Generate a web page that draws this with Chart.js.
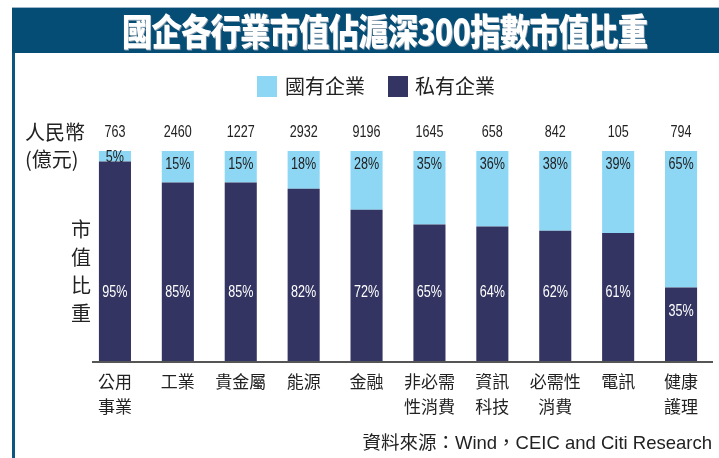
<!DOCTYPE html>
<html>
<head>
<meta charset="utf-8">
<script src="https://cdn.jsdelivr.net/npm/chart.js@4"></script>
<style>
  body { margin: 0; background: #fff; }
  #wrap { position: relative; width: 719px; height: 458px; overflow: hidden; }
  #chart { position: absolute; left: 0; top: 0; }
  .abs { position: absolute; white-space: nowrap; color: #222; }
  .cjk { font-family: "Noto Sans CJK TC", "Noto Sans", sans-serif; }
  #banner { position: absolute; left: 12px; top: 7px; width: 707px; height: 46px; background: #064d75; border-top: 1px solid #9fb7c8; box-sizing: border-box; }
  #title { position: absolute; left: 110px; top: 1px; white-space: nowrap; font: 900 37px "Noto Sans CJK TC", sans-serif; color: #fff; transform: scaleX(0.82); transform-origin: left top; line-height: 42px; text-shadow: 1px 1px 0 #8a9fb0; letter-spacing: -1px; }
  #frame { position: absolute; left: 12px; top: 53px; width: 3px; height: 405px; background: #0b5580; }
  .box { position: absolute; width: 20px; height: 21px; }
</style>
</head>
<body>
<div id="wrap">
  <canvas id="chart" width="719" height="458"></canvas>
  <div id="banner"><div id="title">國企各行業市值佔滬深300指數市值比重</div></div>
  <div id="frame"></div>

  <div class="box" style="left:257px; top:76px; background:#8dd7f5;"></div>
  <div class="abs cjk" style="left:285px; top:73px; font-size:20px; line-height:26px;">國有企業</div>
  <div class="box" style="left:388px; top:76px; background:#333462;"></div>
  <div class="abs cjk" style="left:415px; top:73px; font-size:20px; line-height:26px;">私有企業</div>

  <div class="abs cjk" style="left:25px; top:119px; font-size:20px; line-height:26px;">人民幣</div>
  <div class="abs cjk" style="left:25px; top:146px; font-size:20px; line-height:26px;">(億元)</div>

  <div class="abs cjk" style="left:71px; top:215px; font-size:20px; line-height:28px; width:20px;">市<br>值<br>比<br>重</div>

  <div class="abs" style="right:7px; top:430px; font-size:18.5px; line-height:26px; font-family:'Liberation Sans','Noto Sans CJK TC',sans-serif;">資料來源：Wind，CEIC and Citi Research</div>
</div>

<script>
const sectors = [['公用', '事業'], '工業', '貴金屬', '能源', '金融', ['非必需', '性消費'], ['資訊', '科技'], ['必需性', '消費'], '電訊', ['健康', '護理']];
const totals = [763, 2460, 1227, 2932, 9196, 1645, 658, 842, 105, 794];
const privateShare = [95, 85, 85, 82, 72, 65, 64, 62, 61, 35];
const stateShare = [5, 15, 15, 18, 28, 35, 36, 38, 39, 65];

const navy = '#333462';
const lightBlue = '#8dd7f5';
const numFont = '17px "Liberation Sans", sans-serif';

// narrow text, like the condensed face in the original
function narrowText(ctx, text, x, y) {
	ctx.save();
	ctx.translate(x, y);
	ctx.scale(0.74, 1);
	ctx.fillText(text, 0, 0);
	ctx.restore();
}

// labels on and above the bars, plus the baseline
const barLabels = {
	id: 'barLabels',
	afterDatasetsDraw(chart) {
		const ctx = chart.ctx;
		const area = chart.chartArea;
		const priv = chart.getDatasetMeta(0).data;
		const state = chart.getDatasetMeta(1).data;
		ctx.save();
		ctx.textAlign = 'center';
		ctx.textBaseline = 'middle';
		ctx.font = numFont;
		for (let i = 0; i < totals.length; i++) {
			const s = state[i];
			const p = priv[i];
			ctx.fillStyle = '#222';
			narrowText(ctx, totals[i], s.x, s.y - 19);
			const sy = Math.min(s.y + 13, (s.y + s.base) / 2 + 1);
			narrowText(ctx, stateShare[i] + '%', s.x, sy);
			ctx.fillStyle = '#fff';
			const py = Math.max(area.bottom - 69, p.y + 24);
			narrowText(ctx, privateShare[i] + '%', p.x, py);
		}
		// baseline
		ctx.strokeStyle = '#555';
		ctx.lineWidth = 2;
		ctx.beginPath();
		ctx.moveTo(92, area.bottom + 1);
		ctx.lineTo(713, area.bottom + 1);
		ctx.stroke();
		ctx.restore();
	}
};

const ctx = document.getElementById('chart').getContext('2d');
const myChart = new Chart(ctx, {
	type: 'bar',
	data: {
		labels: sectors,
		datasets: [{
			label: '私有企業',
			data: privateShare,
			backgroundColor: navy,
			barPercentage: 0.51,
			categoryPercentage: 1
		}, {
			label: '國有企業',
			data: stateShare,
			backgroundColor: lightBlue,
			barPercentage: 0.51,
			categoryPercentage: 1
		}]
	},
	options: {
		responsive: false,
		animation: false,
		devicePixelRatio: 1,
		layout: {
			padding: { left: 83.5, right: 6.5, top: 151, bottom: 0 }
		},
		plugins: {
			legend: { display: false },
			tooltip: { enabled: false }
		},
		scales: {
			x: {
				stacked: true,
				grid: { display: false, drawTicks: false },
				border: { display: false },
				ticks: {
					color: '#222',
					padding: 8,
					maxRotation: 0,
					autoSkip: false,
					font: { family: '"Noto Sans CJK TC", sans-serif', size: 17, lineHeight: 1.47 }
				},
				afterFit: (scale) => { scale.height = 97; }
			},
			y: {
				stacked: true,
				display: false,
				min: 0,
				max: 100
			}
		}
	},
	plugins: [barLabels]
});
</script>
</body>
</html>
